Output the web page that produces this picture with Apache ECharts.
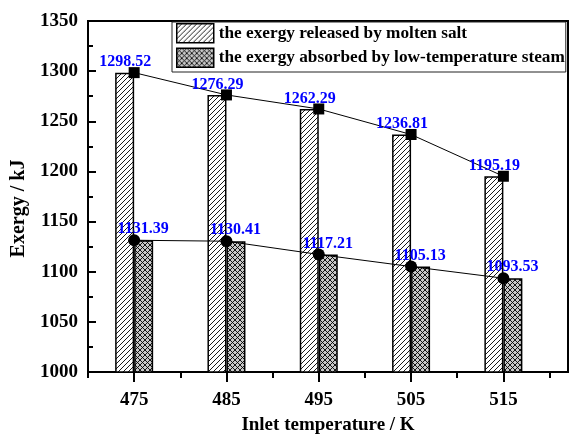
<!DOCTYPE html>
<html><head><meta charset="utf-8">
<script src="https://cdn.jsdelivr.net/npm/echarts@6/dist/echarts.min.js"></script>
<style>html,body{margin:0;padding:0;background:#fff}#c{width:570px;height:434px}</style>
</head><body><div id="c"></div>
<script>
// ---- data ----
const temps = [475, 485, 495, 505, 515];
const released = [1298.52, 1276.29, 1262.29, 1236.81, 1195.19];
const absorbed = [1131.39, 1130.41, 1117.21, 1105.13, 1093.53];
const minorXTicks = [470, 480, 490, 500, 510, 520];
const nameReleased = 'the exergy released by molten salt';
const nameAbsorbed = 'the exergy absorbed by low-temperature steam';
const xName = 'Inlet temperature / K';
const yName = 'Exergy / kJ';

// ---- patterns ----
function makePattern(bg, fwd, back) {
  const s = 5;
  const c = document.createElement('canvas');
  c.width = s; c.height = s;
  const g = c.getContext('2d');
  g.fillStyle = bg; g.fillRect(0, 0, s, s);
  g.strokeStyle = '#000'; g.lineWidth = 0.9;
  g.beginPath();
  if (fwd) {
    g.moveTo(0, s); g.lineTo(s, 0);
    g.moveTo(-1, 1); g.lineTo(1, -1);
    g.moveTo(s - 1, s + 1); g.lineTo(s + 1, s - 1);
  }
  if (back) {
    g.moveTo(0, 0); g.lineTo(s, s);
    g.moveTo(-1, s - 1); g.lineTo(1, s + 1);
    g.moveTo(s - 1, -1); g.lineTo(s + 1, 1);
  }
  g.stroke();
  return { image: c, repeat: 'repeat' };
}
const hatch = makePattern('#ffffff', true, false);
const cross = makePattern('#c8c8c8', true, true);

const FONT = 'Liberation Serif';
const pair = (xs, ys) => xs.map((x, i) => [x, ys[i]]);

const chart = echarts.init(document.getElementById('c'), null, { renderer: 'canvas' });
chart.setOption({
  animation: false,
  backgroundColor: '#fff',
  grid: { left: 88, right: 2, top: 21, bottom: 62, outerBoundsMode: 'none', containLabel: false, show: true, borderColor: '#000', borderWidth: 2, backgroundColor: 'transparent' },
  legend: {
    data: [nameReleased, nameAbsorbed],
    orient: 'vertical', left: 172, top: 22,
    itemWidth: 37, itemHeight: 19, itemGap: 4,
    padding: [1, 1, 4, 4],
    borderColor: '#222', borderWidth: 1, backgroundColor: '#fff',
    icon: 'rect',
    itemStyle: { borderColor: '#000', borderWidth: 1.5 },
    textStyle: { fontFamily: FONT, fontWeight: 'bold', fontSize: 17.25, color: '#000' }
  },
  xAxis: [{
    type: 'value', min: 470, max: 522, interval: 10,
    name: xName, nameLocation: 'middle', nameGap: 44,
    nameTextStyle: { fontFamily: FONT, fontWeight: 'bold', fontSize: 19, color: '#000' },
    axisLine: { show: true, lineStyle: { color: '#000', width: 2 } },
    axisTick: { show: true, customValues: temps, length: 10, lineStyle: { color: '#000', width: 2 } },
    axisLabel: { customValues: temps, margin: 19, fontFamily: FONT, fontWeight: 'bold', fontSize: 19, color: '#000' },
    splitLine: { show: false }
  }, {
    type: 'value', min: 470, max: 522, interval: 10, position: 'bottom',
    axisLine: { show: false },
    axisTick: { show: true, customValues: minorXTicks, length: 6, lineStyle: { color: '#000', width: 2 } },
    axisLabel: { show: false },
    splitLine: { show: false }
  }],
  yAxis: {
    type: 'value', min: 1000, max: 1350, interval: 50,
    name: yName, nameLocation: 'middle', nameGap: 55,
    nameTextStyle: { fontFamily: FONT, fontWeight: 'bold', fontSize: 20, color: '#000', padding: [0, 24, 0, 0] },
    axisLine: { show: true, lineStyle: { color: '#000', width: 2 } },
    axisTick: { show: true, inside: true, length: 8, lineStyle: { color: '#000', width: 2 } },
    minorTick: { show: true, splitNumber: 2, length: 5, lineStyle: { color: '#000', width: 2 } },
    axisLabel: { margin: 10, formatter: v => String(v), fontFamily: FONT, fontWeight: 'bold', fontSize: 19, color: '#000' },
    splitLine: { show: false }, minorSplitLine: { show: false }
  },
  series: [{
    type: 'bar', name: nameReleased, data: pair(temps, released),
    barWidth: 19, barGap: '0%',
    itemStyle: { color: hatch, borderColor: '#000', borderWidth: 1.5 }
  }, {
    type: 'bar', name: nameAbsorbed, data: pair(temps, absorbed),
    barWidth: 19, barGap: '0%',
    itemStyle: { color: cross, borderColor: '#000', borderWidth: 1.5 }
  }, {
    type: 'line', name: 'released-line', data: pair(temps, released), z: 5,
    symbol: 'rect', symbolSize: 11, color: '#000',
    lineStyle: { color: '#000', width: 1 },
    itemStyle: { color: '#000' },
    label: { show: true, position: 'top', distance: 1, offset: [-9, 4], color: '#0000ff', fontFamily: FONT, fontWeight: 'bold', fontSize: 16 }
  }, {
    type: 'line', name: 'absorbed-line', data: pair(temps, absorbed), z: 5,
    symbol: 'circle', symbolSize: 12, color: '#000',
    lineStyle: { color: '#000', width: 1 },
    itemStyle: { color: '#000' },
    label: { show: true, position: 'top', distance: 1, offset: [9, 4], color: '#0000ff', fontFamily: FONT, fontWeight: 'bold', fontSize: 16 }
  }]
});
</script></body></html>
